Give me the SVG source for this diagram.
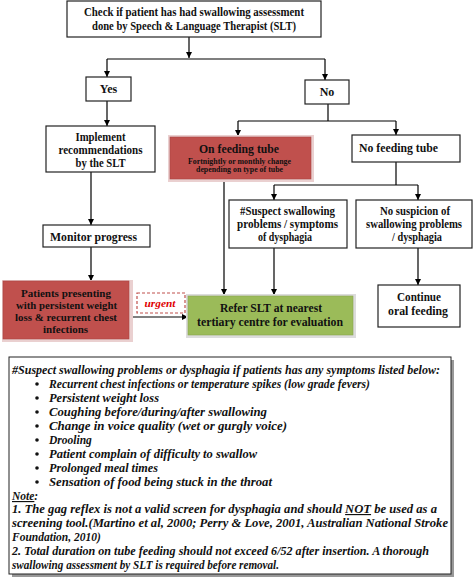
<svg xmlns="http://www.w3.org/2000/svg" width="474" height="577" viewBox="0 0 474 577">
<defs>
<marker id="ah" viewBox="0 0 10 10" refX="10" refY="5" markerWidth="6" markerHeight="6" markerUnits="userSpaceOnUse" orient="auto">
<path d="M0,0 L10,5 L0,10 z" fill="#000"/>
</marker>
<style>
.box{fill:#fff;stroke:#222;stroke-width:1.2}
.red{fill:#c0504d;stroke:#a94442;stroke-width:0.6}
.redsh{fill:#ead0d0}
.green{fill:#9bbb59;stroke:#8aa64f;stroke-width:0.6}
.greensh{fill:#dcdcdc}
.t{font-family:"Liberation Serif","Times New Roman",serif;font-weight:bold;font-size:12px;fill:#111;text-anchor:middle}
.s{font-family:"Liberation Serif","Times New Roman",serif;font-weight:bold;font-size:8px;fill:#111;text-anchor:middle}
.n{font-family:"Liberation Serif","Times New Roman",serif;font-weight:bold;font-style:italic;font-size:11.5px;fill:#111}
.c{fill:none;stroke:#000;stroke-width:1.2}
</style>
</defs>

<g id="connectors">
<path class="c" d="M189,37 V58" marker-end="url(#ah)"/>
<path class="c" d="M107,59 H325"/>
<path class="c" d="M107,59 V77" marker-end="url(#ah)"/>
<path class="c" d="M325,59 V80" marker-end="url(#ah)"/>
<path class="c" d="M107,101 V126" marker-end="url(#ah)"/>
<path class="c" d="M328,104 V121"/>
<path class="c" d="M238,121 H396"/>
<path class="c" d="M238,121 V136" marker-end="url(#ah)"/>
<path class="c" d="M396,121 V135" marker-end="url(#ah)"/>
<path class="c" d="M91,172 V225" marker-end="url(#ah)"/>
<path class="c" d="M91,247 V281" marker-end="url(#ah)"/>
<path class="c" d="M224,179 V295" marker-end="url(#ah)"/>
<path class="c" d="M396,162 V185"/>
<path class="c" d="M274,185 H418"/>
<path class="c" d="M274,185 V200" marker-end="url(#ah)"/>
<path class="c" d="M418,185 V200" marker-end="url(#ah)"/>
<path class="c" d="M274,248 V295" marker-end="url(#ah)"/>
<path class="c" d="M418,248 V285" marker-end="url(#ah)"/>
<path class="c" d="M131,317 H188" marker-end="url(#ah)"/>
</g>

<g id="check">
<rect class="box" x="67" y="1" width="254" height="36"/>
<text class="t" x="194" y="16" textLength="220" lengthAdjust="spacingAndGlyphs">Check if patient has had swallowing assessment</text>
<text class="t" x="194" y="30" textLength="204" lengthAdjust="spacingAndGlyphs">done by Speech &amp; Language Therapist (SLT)</text>
</g>

<g id="yes">
<rect class="box" x="86" y="77" width="45" height="24"/>
<text class="t" x="108.5" y="93">Yes</text>
</g>

<g id="no">
<rect class="box" x="305" y="80" width="44" height="24"/>
<text class="t" x="327" y="96">No</text>
</g>

<g id="implement">
<rect class="box" x="46" y="126" width="109" height="46"/>
<text class="t" x="100.5" y="141" textLength="50" lengthAdjust="spacingAndGlyphs">Implement</text>
<text class="t" x="100.5" y="154" textLength="84" lengthAdjust="spacingAndGlyphs">recommendations</text>
<text class="t" x="100.5" y="167" textLength="50" lengthAdjust="spacingAndGlyphs">by the SLT</text>
</g>

<g id="on-feeding-tube">
<rect class="redsh" x="168" y="135" width="146" height="47"/>
<rect class="red" x="170" y="137" width="141" height="42"/>
<text class="t" x="239" y="152.5" style="font-size:13.5px" textLength="80" lengthAdjust="spacingAndGlyphs">On feeding tube</text>
<text class="s" x="239.5" y="163.5" textLength="103" lengthAdjust="spacingAndGlyphs">Fortnightly or monthly change</text>
<text class="s" x="239.5" y="172" textLength="87" lengthAdjust="spacingAndGlyphs">depending on type of tube</text>
</g>

<g id="no-feeding-tube">
<rect class="box" x="352" y="135" width="108" height="27"/>
<text class="t" x="398.5" y="152" textLength="79" lengthAdjust="spacingAndGlyphs">No feeding tube</text>
</g>

<g id="suspect">
<rect class="box" x="229" y="200" width="118" height="48"/>
<text class="t" x="287.5" y="215" textLength="95" lengthAdjust="spacingAndGlyphs">#Suspect swallowing</text>
<text class="t" x="287.5" y="228" textLength="101" lengthAdjust="spacingAndGlyphs">problems / symptoms</text>
<text class="t" x="285" y="241" textLength="54" lengthAdjust="spacingAndGlyphs">of dysphagia</text>
</g>

<g id="no-suspicion">
<rect class="box" x="356" y="200" width="116" height="48"/>
<text class="t" x="415" y="215" textLength="70" lengthAdjust="spacingAndGlyphs">No suspicion of</text>
<text class="t" x="414" y="228" textLength="96" lengthAdjust="spacingAndGlyphs">swallowing problems</text>
<text class="t" x="417" y="241" textLength="50" lengthAdjust="spacingAndGlyphs">/ dysphagia</text>
</g>

<g id="monitor">
<rect class="box" x="43" y="225" width="107" height="22"/>
<text class="t" x="93.5" y="241" textLength="87" lengthAdjust="spacingAndGlyphs">Monitor progress</text>
</g>

<g id="patients">
<rect class="redsh" x="2" y="280" width="131" height="62"/>
<rect class="red" x="3" y="281" width="126" height="58"/>
<text class="t" x="66" y="297" style="font-size:11px" textLength="90" lengthAdjust="spacingAndGlyphs">Patients presenting</text>
<text class="t" x="66.5" y="309" style="font-size:11px" textLength="101" lengthAdjust="spacingAndGlyphs">with persistent weight</text>
<text class="t" x="66" y="321" style="font-size:11px" textLength="102" lengthAdjust="spacingAndGlyphs">loss &amp; recurrent chest</text>
<text class="t" x="65.5" y="333" style="font-size:11px" textLength="45" lengthAdjust="spacingAndGlyphs">infections</text>
</g>

<g id="urgent">
<rect x="137" y="293" width="48" height="20" fill="#fff" stroke="#c0504d" stroke-width="1.2" stroke-dasharray="3,2"/>
<text class="n" x="160" y="307" style="fill:#e00000;text-anchor:middle;font-size:11px" textLength="31" lengthAdjust="spacingAndGlyphs">urgent</text>
</g>

<g id="refer">
<rect class="greensh" x="186" y="294" width="170" height="44"/>
<rect class="green" x="188" y="296" width="165" height="39"/>
<text class="t" x="271" y="312" style="font-size:13px" textLength="102" lengthAdjust="spacingAndGlyphs">Refer SLT at nearest</text>
<text class="t" x="270" y="326" style="font-size:13px" textLength="146" lengthAdjust="spacingAndGlyphs">tertiary centre for evaluation</text>
</g>

<g id="continue">
<rect class="box" x="378" y="285" width="82" height="42"/>
<text class="t" x="419" y="301" textLength="44" lengthAdjust="spacingAndGlyphs">Continue</text>
<text class="t" x="418" y="315" textLength="60" lengthAdjust="spacingAndGlyphs">oral feeding</text>
</g>

<g id="notes">
<rect x="12" y="360" width="442" height="217" fill="#999"/>
<rect x="9" y="357" width="442" height="217" fill="#fff" stroke="#222" stroke-width="1"/>
<text class="n" x="12" y="374" textLength="428" lengthAdjust="spacingAndGlyphs">#Suspect swallowing problems or dysphagia if patients has any symptoms listed below:</text>
<g fill="#111">
<circle cx="37" cy="384" r="1.8"/>
<circle cx="37" cy="398" r="1.8"/>
<circle cx="37" cy="412" r="1.8"/>
<circle cx="37" cy="426" r="1.8"/>
<circle cx="37" cy="440" r="1.8"/>
<circle cx="37" cy="454" r="1.8"/>
<circle cx="37" cy="468" r="1.8"/>
<circle cx="37" cy="482" r="1.8"/>
</g>
<text class="n" x="49" y="388" textLength="321" lengthAdjust="spacingAndGlyphs">Recurrent chest infections or temperature spikes (low grade fevers)</text>
<text class="n" x="49" y="402" textLength="110" lengthAdjust="spacingAndGlyphs">Persistent weight loss</text>
<text class="n" x="49" y="416" textLength="218" lengthAdjust="spacingAndGlyphs">Coughing before/during/after swallowing</text>
<text class="n" x="49" y="430" textLength="238" lengthAdjust="spacingAndGlyphs">Change in voice quality (wet or gurgly voice)</text>
<text class="n" x="49" y="444">Drooling</text>
<text class="n" x="49" y="458" textLength="208" lengthAdjust="spacingAndGlyphs">Patient complain of difficulty to swallow</text>
<text class="n" x="49" y="472" textLength="109" lengthAdjust="spacingAndGlyphs">Prolonged meal times</text>
<text class="n" x="49" y="486" textLength="223" lengthAdjust="spacingAndGlyphs">Sensation of food being stuck in the throat</text>
<text class="n" x="12" y="500"><tspan text-decoration="underline">Note</tspan>:</text>
<text class="n" x="12" y="513" textLength="425" lengthAdjust="spacingAndGlyphs">1. The gag reflex is not a valid screen for dysphagia and should <tspan text-decoration="underline">NOT</tspan> be used as a</text>
<text class="n" x="12" y="527" textLength="436" lengthAdjust="spacingAndGlyphs">screening tool.(Martino et al, 2000; Perry &amp; Love, 2001, Australian National Stroke</text>
<text class="n" x="12" y="541">Foundation, 2010)</text>
<text class="n" x="12" y="555" textLength="417" lengthAdjust="spacingAndGlyphs">2. Total duration on tube feeding should not exceed 6/52 after insertion. A thorough</text>
<text class="n" x="12" y="569" textLength="267" lengthAdjust="spacingAndGlyphs">swallowing assessment by SLT is required before removal.</text>
</g>
</svg>
